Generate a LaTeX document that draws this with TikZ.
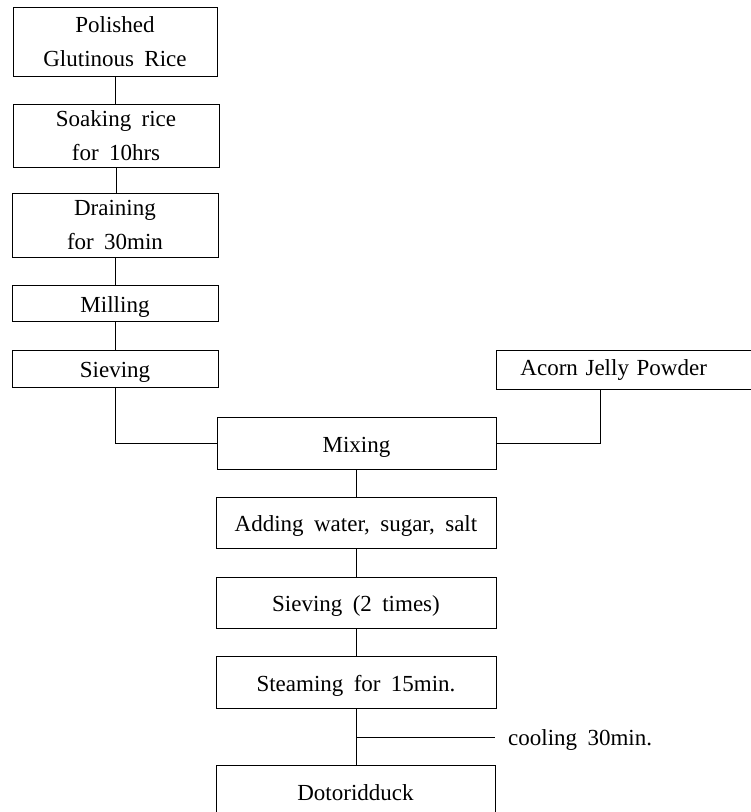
\documentclass[tikz,border=0pt]{standalone}
\usepackage{fontspec}
\setmainfont[WordSpace=1.8]{Liberation Serif}
\usetikzlibrary{calc}
\tikzset{
  stepbox/.style={draw, line width=0.9pt, rectangle, inner sep=0pt, align=center,
    font=\fontsize{23}{34}\selectfont},
  onel/.style={text height=18pt, text depth=0pt},
  conn/.style={line width=0.9pt},
  lbl/.style={inner sep=0pt, font=\fontsize{23}{34}\selectfont}
}
\begin{document}
\begin{tikzpicture}[x=1pt,y=-1pt]
\useasboundingbox (0,0) rectangle (751,812);
\clip (0,0) rectangle (751,812);
\node[stepbox, minimum width=204pt, minimum height=69pt] (b1) at (115,41.5) {Polished\\Glutinous Rice};
\node[stepbox, minimum width=206pt, minimum height=63pt] (b2) at (116,135.5) {Soaking rice\\for 10hrs};
\node[stepbox, minimum width=206pt, minimum height=64pt] (b3) at (115,225) {Draining\\for 30min};
\node[stepbox, onel, minimum width=206pt, minimum height=36pt] (b4) at (115,303) {Milling};
\node[stepbox, onel, minimum width=206pt, minimum height=37pt] (b5) at (115,368.5) {Sieving};
\node[stepbox, anchor=west, text height=11pt, text depth=0pt, minimum height=39pt, text width=240pt, align=left, inner xsep=24pt] (acorn) at (496,369.5) {Acorn Jelly Powder};
\node[stepbox, onel, minimum width=279pt, minimum height=52pt] (mix) at (356.5,443) {Mixing};
\node[stepbox, onel, minimum width=280pt, minimum height=51pt] (add) at (356,522.5) {Adding water, sugar, salt};
\node[stepbox, onel, minimum width=280pt, minimum height=51pt] (sv2) at (356,602.5) {Sieving (2 times)};
\node[stepbox, onel, minimum width=280pt, minimum height=52pt] (steam) at (356,682) {Steaming for 15min.};
\node[stepbox, onel, minimum width=279pt, minimum height=52pt] (dot) at (355.5,791) {Dotoridduck};
\node[lbl, anchor=west, text height=16pt, text depth=0pt] (cool) at (508,737) {cooling 30min.};
\coordinate (br) at (356,737);
\coordinate (acj) at ($(acorn.south west)+(104,0)$);

\draw[conn] (b1.south) -- (b1.south |- b2.north);
\draw[conn] (b2.south) -- (b2.south |- b3.north);
\draw[conn] (b3.south) -- (b3.south |- b4.north);
\draw[conn] (b4.south) -- (b4.south |- b5.north);
\draw[conn] (b5.south) |- (mix.west);
\draw[conn] (acj) |- (mix.east);
\draw[conn] (mix.south) -- (mix.south |- add.north);
\draw[conn] (add.south) -- (add.south |- sv2.north);
\draw[conn] (sv2.south) -- (sv2.south |- steam.north);
\draw[conn] (steam.south) -- (steam.south |- dot.north);
\draw[conn] (br) -- ($(cool.west)+(-13,0)$);
\end{tikzpicture}
\end{document}
